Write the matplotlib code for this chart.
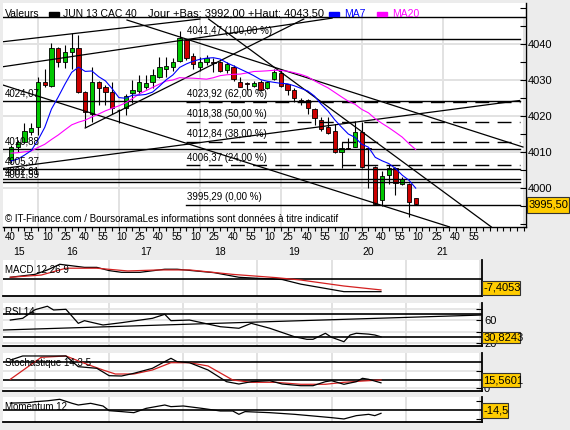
import numpy as np
import pandas as pd
import matplotlib
matplotlib.use("Agg")
import matplotlib.pyplot as plt
from matplotlib.patches import Rectangle
from matplotlib.ticker import MultipleLocator
from matplotlib.transforms import blended_transform_factory

plt.rcParams['font.family'] = ['Liberation Sans', 'DejaVu Sans']

# ---------------- data ----------------
# CAC 40 June 2013 future, 5 minute candles from 15:40 to 20:40
start_min = 15 * 60 + 40
opens = [4007.8, 4011.5, 4012.7, 4015.6, 4017.0, 4029.4, 4028.3, 4038.8, 4035.1, 4037.7,
         4038.8, 4026.8, 4020.7, 4029.4, 4028.1, 4026.8, 4021.8, 4022.1, 4026.3, 4026.9,
         4028.1, 4029.5, 4030.9, 4033.2, 4033.7, 4035.3, 4041.1, 4036.8, 4033.7, 4034.9,
         4034.9, 4034.9, 4032.8, 4033.7, 4029.5, 4029.1, 4028.3, 4029.5, 4027.7, 4030.2,
         4031.9, 4028.8, 4027.2, 4024.5, 4024.4, 4021.9, 4018.9, 4017.0, 4015.8, 4010.1,
         4011.1, 4011.5, 4015.5, 4011.0, 4005.9, 3996.7, 4003.6, 4005.6, 4001.0, 4001.0,
         3997.1]
highs = [4012.0, 4013.3, 4018.0, 4018.0, 4030.9, 4033.2, 4040.2, 4039.2, 4039.7, 4043.0,
         4042.5, 4027.0, 4033.7, 4029.6, 4028.5, 4029.5, 4021.9, 4026.0, 4030.0, 4031.4,
         4031.4, 4033.2, 4036.5, 4036.5, 4036.1, 4043.5, 4041.5, 4037.4, 4036.5, 4036.9,
         4036.0, 4035.3, 4035.1, 4034.2, 4030.9, 4029.5, 4029.6, 4030.0, 4029.8, 4033.2,
         4033.2, 4029.0, 4027.9, 4025.1, 4024.6, 4022.1, 4019.8, 4019.8, 4017.7, 4012.9,
         4013.8, 4018.6, 4018.4, 4011.2, 4006.2, 4004.7, 4006.4, 4005.8, 4003.1, 4001.5,
         3997.2]
lows = [4007.0, 4010.1, 4012.5, 4014.7, 4014.7, 4028.0, 4028.0, 4033.7, 4033.4, 4033.2,
        4026.3, 4017.0, 4018.4, 4023.1, 4023.1, 4020.7, 4018.0, 4020.3, 4023.5, 4026.0,
        4027.5, 4027.7, 4030.5, 4030.9, 4032.6, 4035.0, 4035.6, 4033.2, 4032.6, 4034.2,
        4032.3, 4032.3, 4031.9, 4029.6, 4028.0, 4027.2, 4028.0, 4027.0, 4027.4, 4030.0,
        4028.0, 4025.8, 4023.8, 4023.1, 4020.7, 4017.5, 4015.8, 4015.0, 4009.6, 4005.6,
        4010.8, 4011.3, 4005.6, 4000.1, 3995.2, 3995.1, 4001.0, 3998.1, 4000.8, 3992.0,
        3995.4]
closes = [4011.5, 4012.7, 4015.8, 4016.8, 4029.4, 4028.6, 4038.8, 4034.9, 4037.7, 4038.8,
          4026.8, 4021.2, 4029.4, 4027.7, 4026.8, 4022.3, 4021.6, 4025.6, 4027.2, 4029.4,
          4029.1, 4031.4, 4033.7, 4034.0, 4035.1, 4041.8, 4036.2, 4034.4, 4035.1, 4036.0,
          4034.8, 4032.6, 4034.4, 4030.2, 4028.1, 4029.0, 4029.3, 4027.2, 4029.4, 4032.3,
          4028.3, 4027.2, 4025.1, 4024.3, 4022.1, 4019.4, 4016.4, 4015.2, 4010.1, 4011.0,
          4010.9, 4015.5, 4005.9, 4010.8, 3995.5, 4003.4, 4005.6, 4001.3, 4002.5, 3996.0,
          3995.5]
# closes before 15:40 (only feed the moving averages)
closes_before = [4010, 4011, 4012, 4010, 4011, 4012, 4010, 4009, 4011, 4012,
                 4010, 4011, 4012, 4009, 4008, 4008, 4009, 4004, 4003]

left_levels = [4024.07, 4010.88, 4005.37, 4002.61, 4001.59]
fib_levels = [4041.47, 4023.92, 4018.38, 4012.84, 4006.37, 3995.29]
fib_pcts = [100, 62, 50, 38, 24, 0]
fib_start = 26
# trend lines (candle index, price) -> (candle index, price)
trend_lines = [
    (-1.19, 4040.64, 28.0, 4046.94),
    (-1.19, 4033.70, 47.6, 4047.20),
    (-1.19, 4005.42, 75.4, 4024.31),
    (-1.19, 4028.61, 65.0, 3989.20),
    (17.2, 4046.67, 75.9, 4011.39),
    (29.3, 4046.94, 71.2, 3989.20),
    (11.0, 4016.67, 43.4, 4046.94),
]

macd_idx = [0, 4, 6, 8, 12, 14, 16, 18, 21, 25, 27, 30, 33, 37, 40, 44, 47, 54, 60]
macd_line = [1.0, 2.7, 5.3, 8.6, 6.8, 6.8, 4.9, 3.9, 3.9, 5.7, 5.7, 4.7, 3.7, 1.0, 0.4,
             -0.3, -3.0, -7.4, -7.4053]
sig_idx = [0, 5, 9, 14, 19, 24, 29, 36, 43, 47, 52, 54, 60]
sig_line = [1.0, 2.3, 6.3, 6.3, 4.7, 5.3, 5.3, 2.7, 0.8, -0.6, -3.1, -4.1, -6.4]

rsi_idx = [0, 2, 4, 6, 7, 9, 11, 12, 15, 18, 23, 25, 26, 29, 34, 37, 39, 42, 46, 48,
           49, 51, 52, 54, 55, 56, 58, 59, 60]
rsi = [60, 63, 78, 84, 77.5, 78.7, 54.3, 58.9, 51.4, 55.4, 63, 70, 58.9, 60, 48.4, 45.7,
       54.3, 45.7, 31, 26.5, 26.5, 37, 30, 22.3, 34, 37, 35.5, 34, 30.8243]
rsi_trend = (-1.14, 42.7, 76.2, 68.7)

k_idx = [0, 2, 9, 11, 14, 16, 18, 20, 23, 26, 27, 29, 32, 35, 37, 39, 42, 44, 47, 49,
         51, 52, 54, 56, 57, 58, 60]
stoch_k = [80, 91.8, 91.8, 61.4, 56.8, 35.8, 34.9, 42.6, 56.8, 85.2, 75.6, 72.7, 52, 18.8,
           12.2, 18.8, 21.6, 12.2, 7.4, 7.4, 18.8, 21.6, 11.4, 18.8, 28.4, 25.6, 15.5601]
d_idx = [0, 5, 9, 12, 15, 17, 20, 23, 26, 29, 32, 36, 39, 43, 47, 51, 54, 57, 60]
stoch_d = [25.6, 88, 91.8, 71, 52, 40.6, 40.6, 52, 72.7, 72.7, 63.4, 23.6, 17, 17, 11.4,
           11.4, 17, 20.7, 23.6]

mom_idx = [0, 3, 4, 6, 8, 10, 11, 13, 15, 16, 18, 20, 22, 25, 26, 28, 31, 34, 36, 37,
           38, 42, 46, 49, 52, 54, 56, 58, 59, 60]
momentum = [30, 32, 36, 40, 46.5, 29, 21.7, 29, 17.4, -3, -7, -11.6, 7.2, 21.7, 14.5,
            17.4, 7.2, -4.3, -4.3, -18.8, -7, -11.6, -18.8, -26, -33.3, -39, -24.6,
            -18.8, -24.6, -14.5]

# ---------------- style ----------------
W, H = 570, 430
BG = "#ECECEC"
GRID = "#E2E2E2"
GREEN = "#00C800"
RED = "#CC0000"
SIGRED = "#D42020"
YELLOW = "#FFCC00"
XLIM = (-1.185, 76.35)


def fbox(x0, y0, x1, y1):
    return [x0 / W, 1 - y1 / H, (x1 - x0) / W, (y1 - y0) / H]


def fx(x):
    return x / W


def fy(y):
    return 1 - y / H


def fr(v, nd):
    return f"{v:.{nd}f}".replace('.', ',')


def value_box(x0, y0, x1, y1, text):
    fig.add_artist(Rectangle((fx(x0), fy(y1)), (x1 - x0) / W, (y1 - y0) / H,
                             transform=fig.transFigure, facecolor=YELLOW,
                             edgecolor="#333333", lw=0.8, zorder=10))
    fig.text(fx(x0 + 1.5), fy((y0 + y1) / 2), text, fontsize=8, va='center',
             ha='left', zorder=11)


fig = plt.figure(figsize=(W / 100, H / 100), dpi=100, facecolor=BG)

n = len(closes)
idx = np.arange(n)
o = np.array(opens)
c = np.array(closes)
hours = [(h * 60 - start_min) / 5 for h in range(16, 23)]

# ---------------- main chart ----------------
ax = fig.add_axes(fbox(3, 3, 526, 227))
ax.set_facecolor("white")
ax.set_xlim(*XLIM)
ax.set_ylim(3989.17, 4051.4)
TOP = 4047.4
ax.vlines(hours, 3989.17, TOP, color=GRID, lw=1.4, zorder=0)
ax.hlines(range(4000, 4041, 10), XLIM[0], XLIM[1], color=GRID, lw=1.4, zorder=0)
ax.axhline(TOP, color='black', lw=1.0, zorder=3)

ax.vlines(idx, lows, highs, color='black', lw=0.8, zorder=2)
bottoms = np.minimum(o, c)
heights = np.maximum(np.abs(c - o), 0.18)
colors = [GREEN if cc >= oo else RED for oo, cc in zip(o, c)]
ax.bar(idx, heights, bottom=bottoms, width=0.64, color=colors, edgecolor='black',
       linewidth=0.6, zorder=2.5)

allc = pd.Series(closes_before + closes, dtype=float)
ma7 = allc.rolling(7).mean().to_numpy()[-n:]
ma20 = allc.rolling(20).mean().to_numpy()[-n:]
ax.plot(idx, ma20, color='#FF00FF', lw=0.8, zorder=4)
ax.plot(idx, ma7, color='#0000FF', lw=0.8, zorder=4)

for lv in left_levels:
    ax.plot([XLIM[0], 75.4], [lv, lv], color='black', lw=1.0, zorder=3)
    ax.annotate(fr(lv, 2), xy=(XLIM[0], lv), xytext=(1.5, 5.4), textcoords='offset points',
                fontsize=7, va='center', ha='left', zorder=5)

for lv, p in zip(fib_levels, fib_pcts):
    ls = '-' if p in (0, 100) else (0, (10, 6))
    ax.plot([fib_start, 75.4], [lv, lv], color='black', lw=1.0, ls=ls, zorder=3)
    ax.annotate(f"{fr(lv, 2)} ({fr(p, 2)} %)", xy=(fib_start, lv), xytext=(0.5, 5.4),
                textcoords='offset points', fontsize=7, va='center', ha='left', zorder=5)

for a, b, cc, d in trend_lines:
    ax.plot([a, cc], [b, d], color='black', lw=0.9, zorder=3)

ax.yaxis.tick_right()
ax.set_yticks(range(4000, 4041, 10))
ax.yaxis.set_minor_locator(MultipleLocator(5))
ax.tick_params(axis='y', which='both', direction='in', length=4, width=0.8,
               labelsize=8, pad=1.5, right=True, left=False)
ax.set_xticks([])
ax.set_xticks(np.arange(-1, 77), minor=True)
ax.tick_params(axis='x', which='minor', direction='out', length=3, width=0.8)
for s in ('top', 'left'):
    ax.spines[s].set_visible(False)
for s in ('right', 'bottom'):
    ax.spines[s].set_linewidth(1.0)

value_box(526.7, 196.7, 569.3, 213.3, fr(closes[-1], 2))

# header
fig.text(fx(5), fy(14), "Valeurs", fontsize=7.5, va='center')
fig.add_artist(Rectangle((fx(49), fy(15.5)), 10 / W, 3 / H, transform=fig.transFigure,
                         color='black'))
fig.text(fx(63), fy(14), "JUN 13 CAC 40", fontsize=7.5, va='center')
fig.text(fx(148), fy(14), "Jour +Bas: 3992,00 +Haut: 4043,50", fontsize=8, va='center')
fig.add_artist(Rectangle((fx(329), fy(15.5)), 10 / W, 3 / H, transform=fig.transFigure,
                         color='#0000FF'))
fig.text(fx(344), fy(14), "MA7", fontsize=7.5, va='center', color='#0000FF')
fig.add_artist(Rectangle((fx(377), fy(15.5)), 10 / W, 3 / H, transform=fig.transFigure,
                         color='#FF00FF'))
fig.text(fx(392), fy(14), "MA20", fontsize=7.5, va='center', color='#FF00FF')

fig.text(fx(5), fy(219), "\u00a9 IT-Finance.com / BoursoramaLes informations sont "
         "donn\u00e9es \u00e0 titre indicatif", fontsize=7, va='center')

# ---------------- sub panels ----------------


def sub_axes(y0, y1, ylim):
    a = fig.add_axes(fbox(3, y0, 482, y1))
    a.set_facecolor("white")
    a.set_xlim(*XLIM)
    a.set_ylim(*ylim)
    a.vlines(hours, ylim[0], ylim[1], color=GRID, lw=1.4, zorder=0)
    a.set_xticks([])
    for s in ('top', 'left'):
        a.spines[s].set_visible(False)
    for s in ('right', 'bottom'):
        a.spines[s].set_linewidth(1.3)
    a.yaxis.tick_right()
    a.tick_params(axis='y', direction='in', length=4, width=0.8, labelsize=8, pad=1.5)
    return a


axm = sub_axes(260, 296, (-9.94, 11.1))
axm.set_yticks([])
axm.axhline(0, color='black', lw=1.2, zorder=1)
axm.plot(macd_idx, macd_line, color='black', lw=0.9, zorder=3)
axm.plot(sig_idx, sig_line, color=SIGRED, lw=0.9, zorder=3)
fig.text(fx(5), fy(270), "MACD 12 26 9", fontsize=7, va='center')
value_box(482, 281, 520, 295, fr(macd_line[-1], 4))

axr = sub_axes(302.7, 346, (14.87, 90.17))
axr.set_yticks([20, 40, 60, 80])
axr.set_yticklabels(['20', '', '60', ''])
axr.hlines([20, 40, 60, 80], XLIM[0], XLIM[1], color=GRID, lw=1.2, zorder=0)
axr.axhline(70, color='black', lw=1.2, zorder=1)
axr.axhline(30, color='black', lw=1.2, zorder=1)
axr.plot([rsi_trend[0], rsi_trend[2]], [rsi_trend[1], rsi_trend[3]], color='black', lw=0.9)
axr.plot(rsi_idx, rsi, color='black', lw=0.9, zorder=3)
fig.text(fx(5), fy(312.3), "RSI 14", fontsize=7, va='center')
value_box(482, 331.7, 520, 343.3, fr(rsi[-1], 4))

axs = sub_axes(353.3, 390.7, (-6.8, 99.4))
axs.set_yticks([0, 50])
axs.set_yticklabels(['0', ''])
axs.hlines([0, 50], XLIM[0], XLIM[1], color=GRID, lw=1.2, zorder=0)
axs.axhline(75, color='black', lw=1.2, zorder=1)
axs.axhline(25, color='black', lw=1.2, zorder=1)
axs.plot(d_idx, stoch_d, color=SIGRED, lw=0.9, zorder=3)
axs.plot(k_idx, stoch_k, color='black', lw=0.9, zorder=3)
fig.text(fx(5), fy(362.7), "Stochastique 14 3 5", fontsize=7, va='center')
value_box(482, 373.3, 520, 387.3, fr(stoch_k[-1], 4))

axo = sub_axes(396.7, 421.7, (-50.9, 57.8))
axo.set_yticks([-40, 40])
axo.set_yticklabels(['', ''])
axo.axhline(0, color='black', lw=1.2, zorder=1)
axo.plot(mom_idx, momentum, color='black', lw=0.9, zorder=3)
fig.text(fx(5), fy(406.7), "Momentum 12", fontsize=7, va='center')
value_box(482, 403.3, 508, 418.3, fr(momentum[-1], 1))

# time labels under the main chart (they follow the indicator panels' scale)
tr = blended_transform_factory(axm.transData, fig.transFigure)
for k in range(0, 76, 3):
    m = (start_min + 5 * k) % 60
    fig.text(k, fy(236.7), f"{m:02d}", transform=tr, fontsize=7, ha='center', va='center')
for h in range(15, 23):
    a = max(XLIM[0], (h * 60 - start_min) / 5)
    b = min(XLIM[1], ((h + 1) * 60 - start_min) / 5)
    if b - a > 3:
        fig.text((a + b) / 2, fy(251.7), str(h), transform=tr, fontsize=7.5,
                 ha='center', va='center')

fig.savefig("out.png", dpi=100, facecolor=BG)
